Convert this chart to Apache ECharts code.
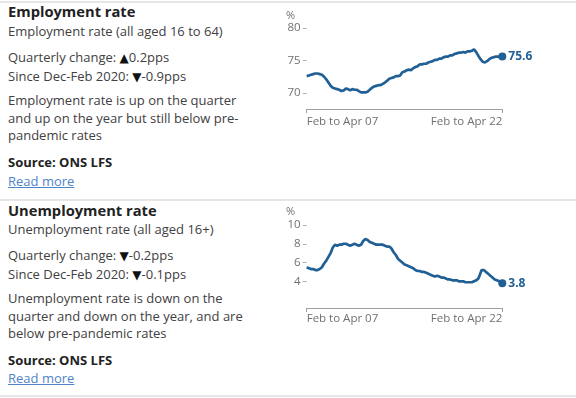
<!DOCTYPE html>
<html>
<head>
<meta charset="utf-8">
<script src="https://cdn.jsdelivr.net/npm/echarts@6/dist/echarts.min.js"></script>
<style>
  html, body { margin: 0; padding: 0; background: #fff; }
  body { width: 576px; height: 398px; position: relative; overflow: hidden; font-family: "Open Sans", sans-serif; color: #414042; }
  .rule { position: absolute; left: 0; width: 576px; height: 2px; background: #e6e6e6; }
  .t { position: absolute; left: 8px; white-space: nowrap; font-size: 13px; line-height: 17.5px; }
  .h { font-weight: 700; font-size: 14.7px; color: #222; }
  .b { font-weight: 700; color: #222; }
  .a { color: #4f84c9; text-decoration: underline; }
  .tri { font-family: "DejaVu Sans"; font-size: 12px; color: #111; }
  #chart { position: absolute; left: 0; top: 0; width: 576px; height: 398px; }
</style>
</head>
<body>
<div class="rule" style="top:1px"></div>
<div class="rule" style="top:199px"></div>
<div class="rule" style="top:395px"></div>

<div class="t h" style="top:3px">Employment rate</div>
<div class="t" style="top:23px">Employment rate (all aged 16 to 64)</div>
<div class="t" style="top:49px">Quarterly change: <span class="tri">▲</span>0.2pps<br>Since Dec-Feb 2020: <span class="tri">▼</span>-0.9pps</div>
<div class="t" style="top:92px">Employment rate is up on the quarter<br>and up on the year but still below pre-<br>pandemic rates</div>
<div class="t b" style="top:154px">Source: ONS LFS</div>
<div class="t a" style="top:173px">Read more</div>

<div class="t h" style="top:202px">Unemployment rate</div>
<div class="t" style="top:221px">Unemployment rate (all aged 16+)</div>
<div class="t" style="top:247px">Quarterly change: <span class="tri">▼</span>-0.2pps<br>Since Dec-Feb 2020: <span class="tri">▼</span>-0.1pps</div>
<div class="t" style="top:290px">Unemployment rate is down on the<br>quarter and down on the year, and are<br>below pre-pandemic rates</div>
<div class="t b" style="top:352px">Source: ONS LFS</div>
<div class="t a" style="top:370px">Read more</div>

<div id="chart"></div>

<script>
// rolling three-month periods, Feb to Apr 2007 ... Feb to Apr 2022
const months = ['Jan', 'Feb', 'Mar', 'Apr', 'May', 'Jun', 'Jul', 'Aug', 'Sep', 'Oct', 'Nov', 'Dec'];
const periods = [];
for (let i = 0; i < 181; i++) {
  const s = (1 + i) % 12;
  const e = (s + 2) % 12;
  const yr = 2007 + Math.floor((i + 3) / 12);
  periods.push(months[s] + ' to ' + months[e] + ' ' + String(yr).slice(2));
}

// employment rate, aged 16 to 64 (%)
const employment = [
  72.6, 72.6, 72.7, 72.8, 72.8, 72.8, 72.9, 72.9, 73.0, 73.0, 73.0, 73.0,
  72.9, 72.9, 72.8, 72.6, 72.5, 72.3, 72.1, 71.9, 71.6, 71.4, 71.1, 70.9,
  70.8, 70.7, 70.7, 70.6, 70.6, 70.5, 70.5, 70.4, 70.3, 70.3, 70.4, 70.6,
  70.7, 70.7, 70.6, 70.5, 70.4, 70.5, 70.6, 70.5, 70.5, 70.6, 70.5, 70.4,
  70.3, 70.2, 70.1, 70.1, 70.1, 70.0, 70.1, 70.2, 70.2, 70.3, 70.5, 70.6,
  70.8, 70.9, 71.0, 71.2, 71.1, 71.3, 71.2, 71.1, 71.2, 71.3, 71.4, 71.5,
  71.6, 71.8, 71.9, 72.1, 72.2, 72.2, 72.3, 72.4, 72.4, 72.5, 72.6, 72.6,
  72.6, 72.6, 72.7, 73.0, 73.2, 73.3, 73.3, 73.4, 73.5, 73.5, 73.6, 73.6,
  73.5, 73.6, 73.8, 73.9, 74.0, 74.0, 74.1, 74.3, 74.4, 74.3, 74.4, 74.5,
  74.5, 74.6, 74.5, 74.6, 74.7, 74.8, 74.8, 74.8, 74.9, 75.0, 75.1, 75.0,
  75.1, 75.2, 75.3, 75.2, 75.3, 75.4, 75.5, 75.5, 75.6, 75.5, 75.6, 75.7,
  75.8, 75.7, 75.8, 75.9, 76.0, 76.1, 76.1, 76.1, 76.2, 76.2, 76.2, 76.3,
  76.3, 76.3, 76.2, 76.3, 76.4, 76.4, 76.4, 76.5, 76.5, 76.6, 76.7, 76.6,
  76.3, 76.0, 75.7, 75.5, 75.2, 75.0, 74.8, 74.7, 74.7, 74.8, 74.9, 75.0,
  75.2, 75.3, 75.4, 75.4, 75.5, 75.5, 75.6, 75.5, 75.6, 75.6, 75.5, 75.6,
  75.6
];

// unemployment rate, aged 16 and over (%)
const unemployment = [
  5.5, 5.4, 5.4, 5.4, 5.3, 5.3, 5.3, 5.2, 5.2, 5.2, 5.2, 5.2,
  5.3, 5.3, 5.5, 5.7, 5.9, 6.0, 6.2, 6.4, 6.6, 6.8, 7.0, 7.3,
  7.6, 7.8, 7.9, 7.9, 7.8, 7.8, 7.9, 7.9, 7.9, 8.0, 8.0, 8.1,
  8.0, 7.9, 7.9, 7.9, 7.8, 7.8, 7.9, 8.0, 8.0, 7.9, 7.9, 7.8,
  7.8, 7.8, 7.9, 8.1, 8.3, 8.4, 8.5, 8.5, 8.4, 8.3, 8.2, 8.2,
  8.1, 8.1, 8.0, 8.0, 7.9, 7.9, 7.9, 7.8, 7.9, 8.0, 7.9, 7.8,
  7.8, 7.8, 7.7, 7.7, 7.7, 7.6, 7.5, 7.3, 7.1, 7.0, 6.8, 6.6,
  6.4, 6.3, 6.2, 6.0, 6.0, 5.9, 5.8, 5.7, 5.7, 5.6, 5.6, 5.6,
  5.5, 5.4, 5.4, 5.3, 5.2, 5.2, 5.1, 5.1, 5.1, 5.1, 5.0, 5.1,
  5.0, 4.9, 4.9, 4.9, 4.8, 4.8, 4.7, 4.7, 4.6, 4.6, 4.5, 4.5,
  4.6, 4.5, 4.5, 4.5, 4.4, 4.4, 4.4, 4.3, 4.3, 4.3, 4.2, 4.2,
  4.2, 4.1, 4.1, 4.1, 4.1, 4.1, 4.1, 4.0, 4.0, 4.0, 4.0, 4.0,
  4.0, 3.9, 3.9, 3.9, 3.9, 3.9, 3.9, 3.9, 3.9, 3.9, 4.0, 4.0,
  4.1, 4.2, 4.3, 4.6, 4.9, 5.2, 5.3, 5.2, 5.1, 5.0, 4.9, 4.8,
  4.7, 4.6, 4.5, 4.4, 4.3, 4.2, 4.1, 4.1, 4.0, 4.0, 3.9, 3.9,
  3.8
];

const empTicks = { min: 70, max: 80, interval: 5 };
const unempTicks = { min: 4, max: 10, interval: 2 };

const blue = '#206095';
const grey = '#707070';
const last = periods.length - 1;
const edgeOnly = (i) => i === 0 || i === last;

function xAxisFor(gridIndex, offset, margin) {
  return {
    type: 'category',
    gridIndex,
    data: periods,
    boundaryGap: false,
    offset,
    axisLine: { lineStyle: { color: '#a0a0a0', width: 1 } },
    axisTick: { interval: edgeOnly, length: 4, lineStyle: { color: '#a0a0a0' } },
    axisLabel: {
      interval: edgeOnly,
      color: grey,
      fontFamily: 'Open Sans',
      fontSize: 11.5,
      margin,
      alignMinLabel: 'left',
      alignMaxLabel: 'right'
    }
  };
}

function yAxisFor(gridIndex, t) {
  return {
    type: 'value',
    gridIndex,
    min: t.min,
    max: t.max,
    interval: t.interval,
    axisLine: { show: false },
    axisTick: { show: true, length: 4, lineStyle: { color: '#b0b0b0' } },
    splitLine: { show: false },
    axisLabel: { color: grey, fontFamily: 'Open Sans', fontSize: 11.5, margin: 6 }
  };
}

function seriesFor(idx, data) {
  return {
    type: 'line',
    xAxisIndex: idx,
    yAxisIndex: idx,
    data,
    clip: false,
    showSymbol: true,
    showAllSymbol: true,
    symbol: 'circle',
    symbolSize: (v, p) => (p.dataIndex === last ? 8 : 0),
    itemStyle: { color: blue },
    lineStyle: { color: blue, width: 2.7 },
    endLabel: {
      show: true,
      formatter: (p) => p.value.toFixed(1),
      color: blue,
      fontFamily: 'Open Sans',
      fontWeight: 'bold',
      fontSize: 12,
      distance: 6
    },
    silent: true,
    animation: false
  };
}

const chart = echarts.init(document.getElementById('chart'));
chart.setOption({
  animation: false,
  grid: [
    { left: 306.7, right: 73.7, top: 28, bottom: 305 },
    { left: 306.7, right: 73.7, top: 225, bottom: 116.7 }
  ],
  xAxis: [xAxisFor(0, 16, 7), xAxisFor(1, 26.7, 5)],
  yAxis: [yAxisFor(0, empTicks), yAxisFor(1, unempTicks)],
  graphic: [
    { type: 'text', left: 286, top: 10, style: { text: '%', fill: grey, font: '11px "Open Sans"' } },
    { type: 'text', left: 286, top: 206, style: { text: '%', fill: grey, font: '11px "Open Sans"' } }
  ],
  series: [seriesFor(0, employment), seriesFor(1, unemployment)]
});
</script>
</body>
</html>
